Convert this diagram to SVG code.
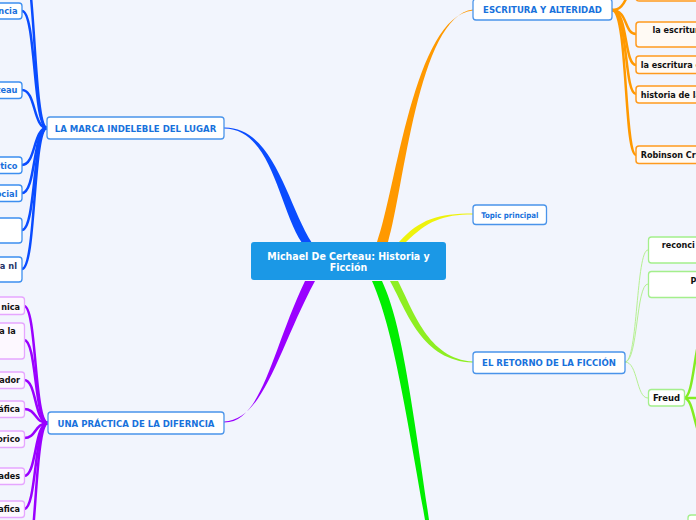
<svg xmlns="http://www.w3.org/2000/svg" width="696" height="520" viewBox="0 0 696 520">
<style>
text{font-family:"DejaVu Sans Condensed","DejaVu Sans",Verdana,sans-serif;font-stretch:condensed;font-weight:bold}
.topic rect{fill:#fff;stroke:#4a94ea;stroke-width:1.3}
.topic text{fill:#1872dc;font-size:9.5px}
.blue rect{fill:#fff;stroke:#3d8ff0;stroke-width:1.3}
.blue text{fill:#1a70dc;font-size:9.2px}
.purp rect{fill:#fdf8ff;stroke:#e6a6ff;stroke-width:1.3}
.orng rect{fill:#fffaf4;stroke:#ff9a1e;stroke-width:1.5}
.grn rect{fill:#fff;stroke:#a4ef8c;stroke-width:1.3}
.child text{fill:#111;font-size:9px}
.sb{fill:none;stroke:#0a4cff;stroke-width:2.5}
.sp{fill:none;stroke:#9a00ff;stroke-width:2.5}
.so{fill:none;stroke:#ff9900;stroke-width:2.5}
.sg{fill:none;stroke:#b6f092;stroke-width:1}
.sg2{fill:none;stroke:#84ec22;stroke-width:2.5}
</style>
<rect x="0" y="0" width="696" height="520" fill="#f2f5fd"/>
<g id="connectors">
<path d="M224,127.5 C274,127 287,204 312,243 L302,243 C278,206 272,129 224,128.5 Z" fill="#0a4cff"/>
<path d="M224,421.5 C264,420 278,350 315,281 L305,281 C272,350 262,423 224,422.5 Z" fill="#9a00ff"/>
<path d="M388,242 C404,190 418,16 473,9.5 L473,10.5 C414,16 396,190 377,242 Z" fill="#ff9900"/>
<path d="M406,242 C428,221 442,214.5 473,214.5 L473,213.5 C438,213.5 420,219 399,242 Z" fill="#eef20c"/>
<path d="M398,281 C413,310 428,359 473,361.5 L473,362.5 C422,361 407,312 390,281 Z" fill="#8eee22"/>
<path d="M382,281 C400,320 409,380 429,520 L425,520 C401,380 390,322 372,281 Z" fill="#00ee00"/>
<path class="sb" d="M47,128 C33,128 36,-40 22,-40"/>
<path class="sb" d="M47,128 C33,128 36,11 22,11"/>
<path class="sb" d="M47,128 C33,128 36,90 22,90"/>
<path class="sb" d="M47,128 C33,128 36,165 22,165"/>
<path class="sb" d="M47,128 C33,128 36,193 22,193"/>
<path class="sb" d="M47,128 C33,128 36,230 22,230"/>
<path class="sb" d="M47,128 C33,128 36,269 22,269"/>
<path class="sp" d="M48,423 C34,423 37,306 24,306"/>
<path class="sp" d="M48,423 C34,423 37,340 24,340"/>
<path class="sp" d="M48,423 C34,423 37,380 24,380"/>
<path class="sp" d="M48,423 C34,423 37,409 24,409"/>
<path class="sp" d="M48,423 C34,423 37,438 24,438"/>
<path class="sp" d="M48,423 C34,423 37,476 24,476"/>
<path class="sp" d="M48,423 C34,423 37,509 24,509"/>
<path class="sp" d="M48,423 C34,423 37,570 24,570"/>
<path class="so" d="M612,10 C628,10 624,-10 636,-10"/>
<path class="so" d="M612,10 C628,10 624,34 636,34"/>
<path class="so" d="M612,10 C628,10 624,65 636,65"/>
<path class="so" d="M612,10 C628,10 624,94 636,94"/>
<path class="so" d="M612,10 C628,10 624,155 636,155"/>
<path class="sg" d="M625,362 C638,362 636,250 648,250"/>
<path class="sg" d="M625,362 C638,362 636,284 648,284"/>
<path class="sg" d="M625,362 C638,362 636,398 648,398"/>
<path class="sg2" d="M684,398 C695,398 694,330 706,330"/>
<path class="sg2" d="M684,398 L700,398"/>
<path class="sg2" d="M684,398 C695,398 694,440 706,440"/>
</g>
<g id="center">
<rect x="251" y="242" width="195" height="38" rx="3" fill="#1b98e6"/>
<text x="348.5" y="259.5" text-anchor="middle" fill="#fff" font-size="10.5">Michael De Certeau: Historia y</text>
<text x="348.5" y="271" text-anchor="middle" fill="#fff" font-size="10.5">Ficción</text>
</g>
<g id="marca" class="topic">
<rect x="47" y="117" width="177" height="22" rx="3"/>
<text x="135.5" y="131.5" text-anchor="middle">LA MARCA INDELEBLE DEL LUGAR</text>
</g>
<g id="practica" class="topic">
<rect x="48" y="412" width="176" height="22" rx="3"/>
<text x="136" y="426.5" text-anchor="middle">UNA PRÁCTICA DE LA DIFERNCIA</text>
</g>
<g id="escritura" class="topic">
<rect x="473" y="-1" width="139" height="21" rx="3"/>
<text x="542.5" y="13.3" text-anchor="middle">ESCRITURA Y ALTERIDAD</text>
</g>
<g id="topic" class="topic">
<rect x="473" y="205" width="73.5" height="19.5" rx="3"/>
<text x="509.8" y="218" text-anchor="middle" style="font-size:7.8px">Topic principal</text>
</g>
<g id="retorno" class="topic">
<rect x="473" y="352" width="152" height="21.5" rx="3"/>
<text x="549" y="366.3" text-anchor="middle">EL RETORNO DE LA FICCIÓN</text>
</g>
<g id="b1" class="blue"><rect x="-40" y="3" width="62" height="16" rx="3"/><text x="17.5" y="14.3" text-anchor="end">ncia</text></g>
<g id="b2" class="blue"><rect x="-40" y="82" width="62" height="16.5" rx="3"/><text x="17.5" y="93.3" text-anchor="end">teau</text></g>
<g id="b3" class="blue"><rect x="-40" y="157" width="62" height="16.5" rx="3"/><text x="17.5" y="169" text-anchor="end">tico</text></g>
<g id="b4" class="blue"><rect x="-40" y="185" width="62" height="16.5" rx="3"/><text x="17.5" y="196.6" text-anchor="end">ocial</text></g>
<g id="b5" class="blue"><rect x="-40" y="218" width="62" height="25" rx="3"/></g>
<g id="b6" class="blue"><rect x="-40" y="257" width="62" height="25" rx="3"/><text x="17" y="269" text-anchor="end" style="fill:#1f3368">a nl</text></g>
<g id="p1" class="purp child"><rect x="-40" y="297" width="64.5" height="17.5" rx="3"/><text x="20" y="310" text-anchor="end">nica</text></g>
<g id="p2" class="purp child"><rect x="-40" y="323" width="64.5" height="36" rx="3"/><text x="15.7" y="334.3" text-anchor="end">a la</text></g>
<g id="p3" class="purp child"><rect x="-40" y="372" width="64.5" height="16.5" rx="3"/><text x="20" y="383.3" text-anchor="end">ador</text></g>
<g id="p4" class="purp child"><rect x="-40" y="401" width="64.5" height="16.5" rx="3"/><text x="20" y="412.3" text-anchor="end">áfica</text></g>
<g id="p5" class="purp child"><rect x="-40" y="431" width="64.5" height="16.5" rx="3"/><text x="20" y="441.6" text-anchor="end">orico</text></g>
<g id="p6" class="purp child"><rect x="-40" y="468" width="64.5" height="16.5" rx="3"/><text x="20" y="479" text-anchor="end">ades</text></g>
<g id="p7" class="purp child"><rect x="-40" y="501" width="64.5" height="16.5" rx="3"/><text x="20" y="512.3" text-anchor="end">afica</text></g>
<g id="o0" class="orng child"><rect x="636" y="-20" width="80" height="21" rx="3"/></g>
<g id="o1" class="orng child"><rect x="636" y="22" width="80" height="25" rx="3"/><text x="652.5" y="33.3">la escritura</text></g>
<g id="o2" class="orng child"><rect x="636" y="56" width="80" height="17.5" rx="3"/><text x="640.7" y="68">la escritura c</text></g>
<g id="o3" class="orng child"><rect x="636" y="86" width="80" height="17" rx="3"/><text x="640.7" y="97.6">historia de la</text></g>
<g id="o4" class="orng child"><rect x="636" y="146" width="80" height="17.5" rx="3"/><text x="640.7" y="158.3">Robinson Cru</text></g>
<g id="g1" class="grn child"><rect x="648.5" y="237" width="70" height="26" rx="3"/><text x="661.7" y="248.3">reconci</text></g>
<g id="g2" class="grn child"><rect x="648.5" y="271.5" width="70" height="26" rx="3"/><text x="690.5" y="284">P</text></g>
<g id="g3" class="grn child"><rect x="648.5" y="389.5" width="36" height="16.5" rx="3"/><text x="666.5" y="401" text-anchor="middle" style="font-size:9.4px">Freud</text></g>
<g id="g4" class="grn child"><rect x="688" y="515" width="30" height="20" rx="3"/></g>
</svg>
